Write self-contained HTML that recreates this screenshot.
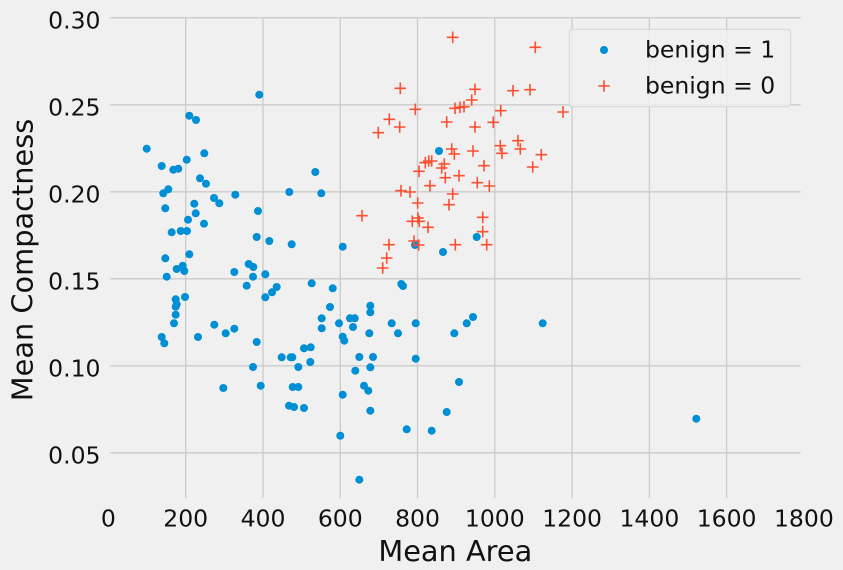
<!DOCTYPE html>
<html><head><meta charset="utf-8"><style>
html,body{margin:0;padding:0;background:#f0f0f0;}
svg{display:block;}
text{font-family:"DejaVu Sans","Liberation Sans",sans-serif;fill:#111;}
</style></head><body>
<svg width="843" height="570" viewBox="0 0 843 570" xmlns="http://www.w3.org/2000/svg">
<rect x="0" y="0" width="843" height="570" fill="#f0f0f0"/>
<g stroke="#cbcbcb" stroke-width="1.3" fill="none">
<path d="M110 17.8H800.7M110 104.8H800.7M110 191.8H800.7M110 278.8H800.7M110 365.8H800.7M110 452.8H800.7"/>
<path d="M185.7 17.8V498M263 17.8V498M340.3 17.8V498M417.5 17.8V498M494.8 17.8V498M572.1 17.8V498M649.4 17.8V498M726.6 17.8V498"/>
</g>
<g font-size="23.5" text-anchor="end">
<text x="100.5" y="28.3">0.30</text>
<text x="100.5" y="115.3">0.25</text>
<text x="100.5" y="202.3">0.20</text>
<text x="100.5" y="289.3">0.15</text>
<text x="100.5" y="376.3">0.10</text>
<text x="100.5" y="463.3">0.05</text>
</g>
<g font-size="23.5" text-anchor="middle">
<text x="108.4" y="526.7">0</text>
<text x="185.7" y="526.7">200</text>
<text x="263" y="526.7">400</text>
<text x="340.3" y="526.7">600</text>
<text x="417.5" y="526.7">800</text>
<text x="494.8" y="526.7">1000</text>
<text x="572.1" y="526.7">1200</text>
<text x="649.4" y="526.7">1400</text>
<text x="726.6" y="526.7">1600</text>
<text x="803.9" y="526.7">1800</text>
</g>
<text x="455.3" y="561" font-size="28.8" text-anchor="middle">Mean Area</text>
<text transform="translate(32.5,260) rotate(-90)" font-size="28.8" text-anchor="middle">Mean Compactness</text>
<g fill="#008fd5">
<circle cx="259.3" cy="94.7" r="4"/><circle cx="189.3" cy="115.7" r="4"/><circle cx="196" cy="120" r="4"/><circle cx="146.7" cy="148.7" r="4"/>
<circle cx="204.3" cy="153.3" r="4"/><circle cx="186.7" cy="159.7" r="4"/><circle cx="161.7" cy="166" r="4"/><circle cx="173.3" cy="169.7" r="4"/>
<circle cx="178.3" cy="168.7" r="4"/><circle cx="315.3" cy="172" r="4"/><circle cx="200" cy="178.3" r="4"/><circle cx="206" cy="183.7" r="4"/>
<circle cx="168.3" cy="189.3" r="4"/><circle cx="163.3" cy="193.3" r="4"/><circle cx="289.3" cy="192" r="4"/><circle cx="321.3" cy="193.3" r="4"/>
<circle cx="235.3" cy="194.7" r="4"/><circle cx="214" cy="198" r="4"/><circle cx="219.3" cy="203.3" r="4"/><circle cx="165.3" cy="208.3" r="4"/>
<circle cx="194.3" cy="203.7" r="4"/><circle cx="258" cy="211" r="4"/><circle cx="195.7" cy="213.3" r="4"/><circle cx="188" cy="219.7" r="4"/>
<circle cx="204" cy="223.7" r="4"/><circle cx="171.7" cy="232.3" r="4"/><circle cx="180.7" cy="231" r="4"/><circle cx="187" cy="231" r="4"/>
<circle cx="256.7" cy="237" r="4"/><circle cx="269.3" cy="241" r="4"/><circle cx="291.7" cy="244.3" r="4"/><circle cx="342.7" cy="246.7" r="4"/>
<circle cx="189.3" cy="254.3" r="4"/><circle cx="165.3" cy="258.3" r="4"/><circle cx="176.7" cy="269" r="4"/><circle cx="182.7" cy="265.7" r="4"/>
<circle cx="184.3" cy="271" r="4"/><circle cx="248.7" cy="264" r="4"/><circle cx="253.3" cy="267" r="4"/><circle cx="234.3" cy="272" r="4"/>
<circle cx="166.7" cy="276.7" r="4"/><circle cx="253" cy="276.7" r="4"/><circle cx="265.3" cy="274.3" r="4"/><circle cx="311.7" cy="283.3" r="4"/>
<circle cx="246.7" cy="285.7" r="4"/><circle cx="276.7" cy="287" r="4"/><circle cx="272" cy="292.3" r="4"/><circle cx="265.3" cy="297.3" r="4"/>
<circle cx="332.7" cy="288.3" r="4"/><circle cx="330" cy="307" r="4"/><circle cx="175.7" cy="299.3" r="4"/><circle cx="185" cy="297" r="4"/>
<circle cx="176.7" cy="304.3" r="4"/><circle cx="175.7" cy="306.7" r="4"/><circle cx="175.7" cy="314.7" r="4"/><circle cx="174" cy="323.3" r="4"/>
<circle cx="214.3" cy="324.7" r="4"/><circle cx="225.7" cy="333.3" r="4"/><circle cx="234.3" cy="328.7" r="4"/><circle cx="198" cy="337" r="4"/>
<circle cx="161.7" cy="337" r="4"/><circle cx="164.3" cy="343.3" r="4"/><circle cx="256.7" cy="342" r="4"/><circle cx="321.7" cy="318.3" r="4"/>
<circle cx="321.7" cy="328.3" r="4"/><circle cx="339" cy="323.3" r="4"/><circle cx="342.7" cy="336.7" r="4"/><circle cx="344.3" cy="340.7" r="4"/>
<circle cx="304" cy="348.3" r="4"/><circle cx="310.7" cy="347.3" r="4"/><circle cx="281.7" cy="357.3" r="4"/><circle cx="290.7" cy="357.3" r="4"/>
<circle cx="292.3" cy="357.3" r="4"/><circle cx="298.3" cy="367" r="4"/><circle cx="310.3" cy="362" r="4"/><circle cx="253" cy="367" r="4"/>
<circle cx="260.7" cy="385.7" r="4"/><circle cx="223.3" cy="388" r="4"/><circle cx="292.7" cy="387" r="4"/><circle cx="298.3" cy="387" r="4"/>
<circle cx="342.7" cy="394.7" r="4"/><circle cx="289" cy="405.7" r="4"/><circle cx="294" cy="407" r="4"/><circle cx="304" cy="408" r="4"/>
<circle cx="340.3" cy="435.7" r="4"/><circle cx="439" cy="151" r="4"/><circle cx="415" cy="245" r="4"/><circle cx="443" cy="252" r="4"/>
<circle cx="476.7" cy="237" r="4"/><circle cx="401.3" cy="284" r="4"/><circle cx="403" cy="286" r="4"/><circle cx="370.3" cy="305.7" r="4"/>
<circle cx="370.3" cy="312.3" r="4"/><circle cx="350" cy="318.3" r="4"/><circle cx="354.7" cy="318.3" r="4"/><circle cx="353" cy="327" r="4"/>
<circle cx="391.7" cy="323.3" r="4"/><circle cx="415.7" cy="323.3" r="4"/><circle cx="369.3" cy="333.3" r="4"/><circle cx="398" cy="333.3" r="4"/>
<circle cx="454.3" cy="333.3" r="4"/><circle cx="466.7" cy="323.3" r="4"/><circle cx="473" cy="317" r="4"/><circle cx="542.7" cy="323.3" r="4"/>
<circle cx="359.3" cy="357" r="4"/><circle cx="373" cy="357" r="4"/><circle cx="415.7" cy="358.7" r="4"/><circle cx="370.3" cy="367.3" r="4"/>
<circle cx="355.3" cy="370.7" r="4"/><circle cx="364" cy="385.7" r="4"/><circle cx="368.3" cy="390.7" r="4"/><circle cx="459" cy="382" r="4"/>
<circle cx="370.3" cy="410.7" r="4"/><circle cx="446.7" cy="412" r="4"/><circle cx="406.7" cy="429.3" r="4"/><circle cx="431.7" cy="430.7" r="4"/>
<circle cx="359.3" cy="479.7" r="4"/><circle cx="696.3" cy="418.7" r="4"/>
</g>
<path fill="none" stroke="#fc4f30" stroke-width="1.6" d="M446.9 37.3h11.6M452.7 31.5v11.6M529.5 47.3h11.6M535.3 41.5v11.6M507.2 90.7h11.6M513 84.9v11.6M524.2 89.7h11.6M530 83.9v11.6M394.5 88.3h11.6M400.3 82.5v11.6M469.2 89.3h11.6M475 83.5v11.6M465.9 100h11.6M471.7 94.2v11.6M409.5 109.3h11.6M415.3 103.5v11.6M449.2 108.3h11.6M455 102.5v11.6M454.2 107.3h11.6M460 101.5v11.6M458.2 106.7h11.6M464 100.9v11.6M494.9 110.7h11.6M500.7 104.9v11.6M557.2 112h11.6M563 106.2v11.6M383.5 119.3h11.6M389.3 113.5v11.6M393.9 127h11.6M399.7 121.2v11.6M372.5 132.7h11.6M378.3 126.9v11.6M440.9 122h11.6M446.7 116.2v11.6M469.2 127h11.6M475 121.2v11.6M487.5 122.3h11.6M493.3 116.5v11.6M512.2 140.7h11.6M518 134.9v11.6M445.9 149h11.6M451.7 143.2v11.6M448.5 154h11.6M454.3 148.2v11.6M467.2 151h11.6M473 145.2v11.6M494.5 145.7h11.6M500.3 139.9v11.6M496.2 153.3h11.6M502 147.5v11.6M514.5 149h11.6M520.3 143.2v11.6M535.5 154.7h11.6M541.3 148.9v11.6M526.9 167h11.6M532.7 161.2v11.6M478.2 165.7h11.6M484 159.9v11.6M419.5 162.7h11.6M425.3 156.9v11.6M422.9 161h11.6M428.7 155.2v11.6M425.9 161h11.6M431.7 155.2v11.6M438.5 164h11.6M444.3 158.2v11.6M435.9 168h11.6M441.7 162.2v11.6M413.2 171.3h11.6M419 165.5v11.6M439.5 177.7h11.6M445.3 171.9v11.6M453.2 175.7h11.6M459 169.9v11.6M424.2 185.7h11.6M430 179.9v11.6M471.5 182.7h11.6M477.3 176.9v11.6M483.5 186h11.6M489.3 180.2v11.6M395.2 190.7h11.6M401 184.9v11.6M404.2 192h11.6M410 186.2v11.6M446.9 194h11.6M452.7 188.2v11.6M411.9 203h11.6M417.7 197.2v11.6M443.2 204.7h11.6M449 198.9v11.6M356.2 215.7h11.6M362 209.9v11.6M412.2 218h11.6M418 212.2v11.6M406.5 221.3h11.6M412.3 215.5v11.6M413.5 221.3h11.6M419.3 215.5v11.6M422.2 227.3h11.6M428 221.5v11.6M476.9 217.3h11.6M482.7 211.5v11.6M476.9 231.7h11.6M482.7 225.9v11.6M480.9 244.7h11.6M486.7 238.9v11.6M408.2 241h11.6M414 235.2v11.6M412.9 245h11.6M418.7 239.2v11.6M449.5 244.7h11.6M455.3 238.9v11.6M383.2 244.7h11.6M389 238.9v11.6M380.9 258h11.6M386.7 252.2v11.6M376.9 268h11.6M382.7 262.2v11.6"/>
<rect x="569.3" y="29.3" width="221.4" height="77.4" rx="3.5" ry="3.5" fill="#f0f0f0" fill-opacity="0.8" stroke="#d6d6d6" stroke-width="1"/>
<circle cx="604" cy="50" r="4" fill="#008fd5"/>
<path fill="none" stroke="#fc4f30" stroke-width="1.6" d="M598.2 86h11.6M604 80.2v11.6"/>
<g font-size="23.5">
<text x="645" y="57.3">benign = 1</text>
<text x="645" y="93.3">benign = 0</text>
</g>
</svg>
</body></html>
